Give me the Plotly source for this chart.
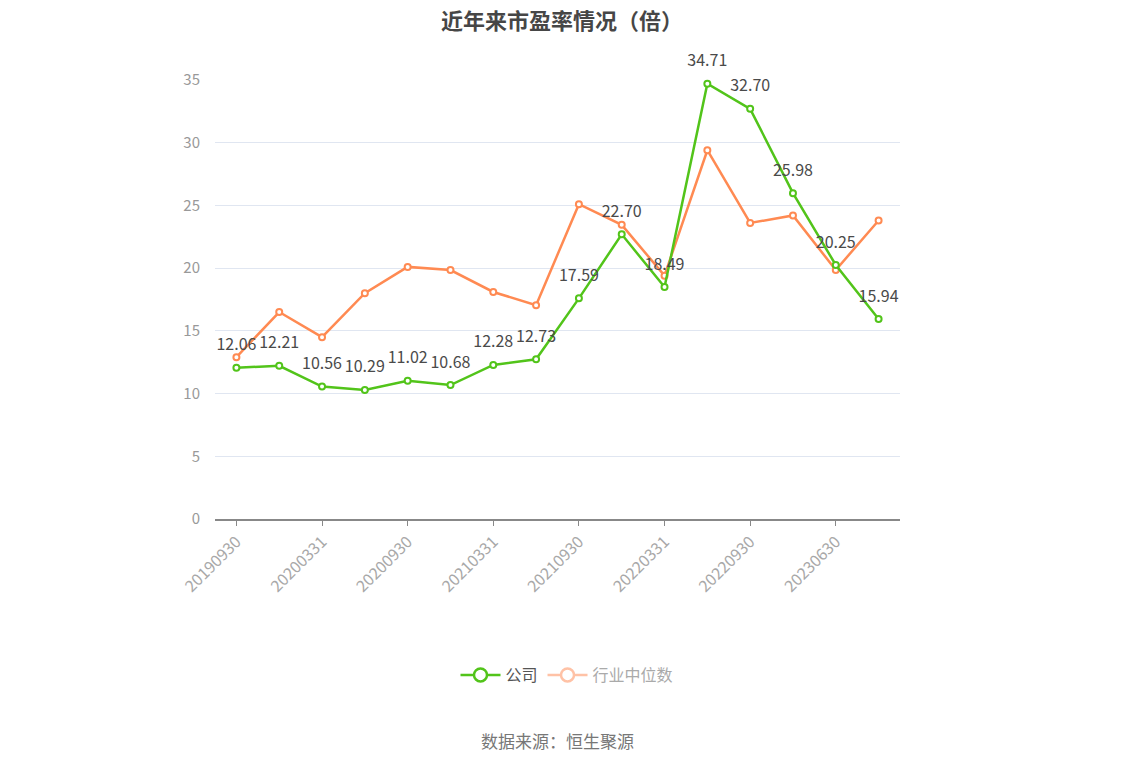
import plotly.graph_objects as go

# quarterly report dates (x categories)
dates = ["20190930", "20191231", "20200331", "20200630", "20200930", "20201231",
         "20210331", "20210630", "20210930", "20211231", "20220331", "20220630",
         "20220930", "20221231", "20230630", "20230930"]
company_pe = [12.06, 12.21, 10.56, 10.29, 11.02, 10.68, 12.28, 12.73,
              17.59, 22.70, 18.49, 34.71, 32.70, 25.98, 20.25, 15.94]
industry_pe = [12.9, 16.5, 14.5, 18.0, 20.1, 19.85, 18.1, 17.05,
               25.1, 23.45, 19.4, 29.4, 23.6, 24.2, 19.85, 23.8]
shown_ticks = dates[::2]

GREEN = "#52c41a"
ORANGE = "#ff8a52"
FONT = "Noto Sans CJK SC"
W, H = 1134, 766

fig = go.Figure()

fig.add_trace(go.Scatter(
    x=dates, y=industry_pe, mode="lines+markers", name="行业中位数",
    line=dict(color=ORANGE, width=2.5),
    marker=dict(symbol="circle", size=6, color="white", line=dict(color=ORANGE, width=2)),
    showlegend=False, cliponaxis=False,
))
fig.add_trace(go.Scatter(
    x=dates, y=company_pe, mode="lines+markers", name="公司",
    line=dict(color=GREEN, width=2.5),
    marker=dict(symbol="circle", size=6, color="white", line=dict(color=GREEN, width=2)),
    showlegend=False, cliponaxis=False,
))
# value labels - big transparent markers push the text a bit higher
fig.add_trace(go.Scatter(
    x=dates, y=company_pe, mode="markers+text",
    marker=dict(size=20, color="rgba(0,0,0,0)"),
    text=[f"{v:.2f}" for v in company_pe], textposition="top center",
    textfont=dict(family=FONT, size=16, color="#4a4a4a"),
    showlegend=False, cliponaxis=False, hoverinfo="skip",
))

# legend entries (industry entry drawn faded like the original)
fig.add_trace(go.Scatter(
    x=[None], y=[None], mode="lines+markers", name="公司",
    line=dict(color=GREEN, width=2.5),
    marker=dict(size=13, color="white", line=dict(color=GREEN, width=2.5)),
))
fig.add_trace(go.Scatter(
    x=[None], y=[None], mode="lines+markers", name="<span style='color:#aaaaaa'>行业中位数</span>",
    line=dict(color="#ffc2a6", width=2.5),
    marker=dict(size=13, color="white", line=dict(color="#ffc2a6", width=2.5)),
))

fig.update_layout(
    width=W, height=H,
    margin=dict(l=207, r=242, t=72, b=255),
    paper_bgcolor="white", plot_bgcolor="white",
    font=dict(family=FONT, color="#666666"),
    title=dict(text="<b>近年来市盈率情况（倍）</b>", x=554 / W, xref="container", xanchor="center",
               y=1, yref="container", yanchor="top", pad=dict(t=6),
               font=dict(family=FONT, size=22, color="#464646")),
    xaxis=dict(
        type="category", categoryorder="array", categoryarray=dates,
        range=[-0.5, len(dates) - 0.5],
        tickvals=shown_ticks, ticktext=shown_ticks, tickangle=-45,
        ticks="outside", ticklen=5, tickcolor="#888888",
        tickfont=dict(family=FONT, size=16, color="#a8a8a8"),
        showline=True, linecolor="#888888", linewidth=2,
        showgrid=False, zeroline=False, fixedrange=True,
    ),
    yaxis=dict(
        range=[0, 35], tickvals=[0, 5, 10, 15, 20, 25, 30, 35],
        tickfont=dict(family=FONT, size=15, color="#999999"),
        gridcolor="#e0e6f1", gridwidth=1, zeroline=False, showline=False,
        ticks="", ticklabelstandoff=14,
    ),
    legend=dict(orientation="h", x=559 / W, xanchor="center", xref="container",
                y=1 - 667 / H, yref="container", yanchor="middle",
                font=dict(family=FONT, size=16, color="#555555"),
                itemwidth=40),
    showlegend=True,
)

fig.add_annotation(
    text="数据来源：恒生聚源", xref="paper", yref="paper", x=0.5, y=0,
    xanchor="center", yanchor="middle", yshift=-(732 - 511), showarrow=False,
    font=dict(family=FONT, size=17, color="#777777"),
)

fig.write_html("out.html")
